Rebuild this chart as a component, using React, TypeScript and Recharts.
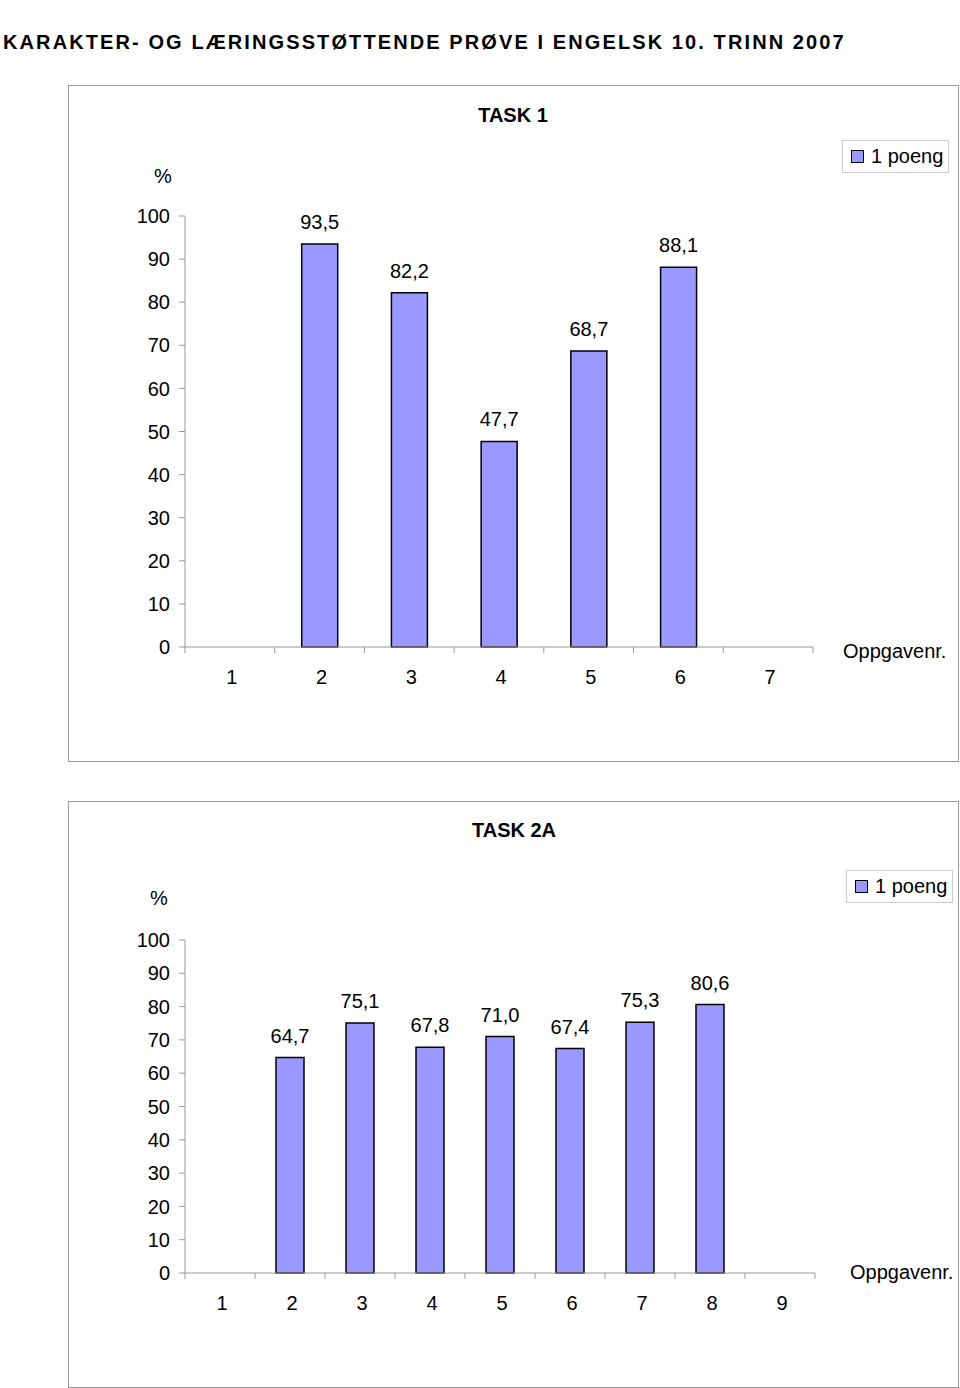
import React from 'react';
import { BarChart, Bar, XAxis, YAxis, LabelList, Legend } from 'recharts';

const task1Categories = ['1', '2', '3', '4', '5', '6', '7'];
const task1Values: (number | null)[] = [null, 93.5, 82.2, 47.7, 68.7, 88.1, null];
const task2Categories = ['1', '2', '3', '4', '5', '6', '7', '8', '9'];
const task2Values: (number | null)[] = [null, 64.7, 75.1, 67.8, 71.0, 67.4, 75.3, 80.6, null];
const yTicks = [0, 10, 20, 30, 40, 50, 60, 70, 80, 90, 100];
const seriesName = '1 poeng';

const task1Data = task1Categories.map((c, i) => ({ cat: c, value: task1Values[i] }));
const task2Data = task2Categories.map((c, i) => ({ cat: c, value: task2Values[i] }));

const FONT = '"Liberation Sans", Arial, Helvetica, sans-serif';
const AXIS = '#999999';
const BAR = '#9999FF';

const fmt = (v: any) => (v == null || v === '' ? '' : Number(v).toFixed(1).replace('.', ','));

const makeXTick = (halfBand: number, count: number) => (props: any) => {
  const { x, y, payload, index } = props;
  const off = payload && typeof payload.offset === 'number' && payload.offset > 0 ? payload.offset : halfBand;
  return (
    <g>
      <line x1={x - off} x2={x - off} y1={y} y2={y + 6} stroke={AXIS} strokeWidth={1} />
      {index === count - 1 && <line x1={x + off} x2={x + off} y1={y} y2={y + 6} stroke={AXIS} strokeWidth={1} />}
      <text x={x + 2} y={y + 37} textAnchor="middle" fontSize={20} fill="#000" fontFamily={FONT}>
        {payload.value}
      </text>
    </g>
  );
};

const LegendBox = () => (
  <div
    style={{
      width: 107,
      height: 33,
      border: '1px solid #cccccc',
      boxSizing: 'border-box',
      display: 'flex',
      alignItems: 'center',
      paddingLeft: 8,
      fontSize: 20,
      fontFamily: FONT,
      color: '#000',
      background: '#fff',
    }}
  >
    <span style={{ display: 'inline-block', width: 13, height: 13, boxSizing: 'border-box', background: BAR, border: '1px solid #000', marginRight: 7 }} />
    <span>{seriesName}</span>
  </div>
);

const abs = (left: number, top: number, extra: React.CSSProperties = {}): React.CSSProperties => ({
  position: 'absolute',
  left,
  top,
  fontFamily: FONT,
  fontSize: 20,
  lineHeight: '20px',
  color: '#000',
  whiteSpace: 'nowrap',
  ...extra,
});

type PanelProps = {
  data: { cat: string; value: number | null }[];
  top: number;
  height: number;
  marginTop: number;
  marginRight: number;
  barSize: number;
  legendLeft: number;
  legendTop: number;
};

const Panel = ({ data, top, height, marginTop, marginRight, barSize, legendLeft, legendTop }: PanelProps) => {
  const width = 890;
  const plotW = width - 117 - marginRight;
  const halfBand = plotW / data.length / 2;
  return (
    <div style={{ position: 'absolute', left: 68, top, width, height }}>
      <BarChart
        width={width}
        height={height}
        data={data}
        margin={{ top: marginTop, right: marginRight, left: 67, bottom: 74 }}
        barCategoryGap={0}
      >
        <XAxis
          dataKey="cat"
          height={40}
          stroke={AXIS}
          tickLine={false}
          tickSize={0}
          tickMargin={0}
          interval={0}
          tick={makeXTick(halfBand, data.length)}
        />
        <YAxis
          width={50}
          domain={[0, 100]}
          ticks={yTicks}
          interval={0}
          stroke={AXIS}
          tickSize={6}
          tickMargin={9}
          tick={{ fontSize: 20, fill: '#000', fontFamily: FONT }}
        />
        <Legend
          layout="vertical"
          align="center"
          verticalAlign="middle"
          content={() => <LegendBox />}
          wrapperStyle={{ position: 'absolute', left: legendLeft, top: legendTop, width: 107, height: 33 }}
        />
        <Bar dataKey="value" name={seriesName} fill={BAR} stroke="#000" strokeWidth={1.5} barSize={barSize} isAnimationActive={false}>
          <LabelList dataKey="value" position="top" offset={15} formatter={fmt} fill="#000" fontSize={20} fontFamily={FONT} />
        </Bar>
      </BarChart>
    </div>
  );
};

export default function App() {
  return (
    <div style={{ position: 'absolute', left: 0, top: 0, width: 960, height: 1388, background: '#fff', fontFamily: FONT }}>
      <div style={abs(3, 32, { fontWeight: 'bold', letterSpacing: '2.1px' })}>
        KARAKTER- OG LÆRINGSSTØTTENDE PRØVE I ENGELSK 10. TRINN 2007
      </div>

      <div style={{ position: 'absolute', left: 68, top: 85, width: 891, height: 677, border: '1px solid #999', boxSizing: 'border-box' }} />
      <div style={abs(413, 105, { width: 200, textAlign: 'center', fontWeight: 'bold' })}>TASK 1</div>
      <div style={abs(154, 166)}>%</div>
      <div style={abs(843, 641)}>Oppgavenr.</div>
      <Panel data={task1Data} top={85} height={676} marginTop={131} marginRight={145} barSize={36} legendLeft={774} legendTop={55} />

      <div style={{ position: 'absolute', left: 68, top: 801, width: 891, height: 587, border: '1px solid #999', boxSizing: 'border-box' }} />
      <div style={abs(414, 820, { width: 200, textAlign: 'center', fontWeight: 'bold' })}>TASK 2A</div>
      <div style={abs(150, 888)}>%</div>
      <div style={abs(850, 1262)}>Oppgavenr.</div>
      <Panel data={task2Data} top={801} height={586} marginTop={139} marginRight={143} barSize={28} legendLeft={778} legendTop={69} />
    </div>
  );
}
